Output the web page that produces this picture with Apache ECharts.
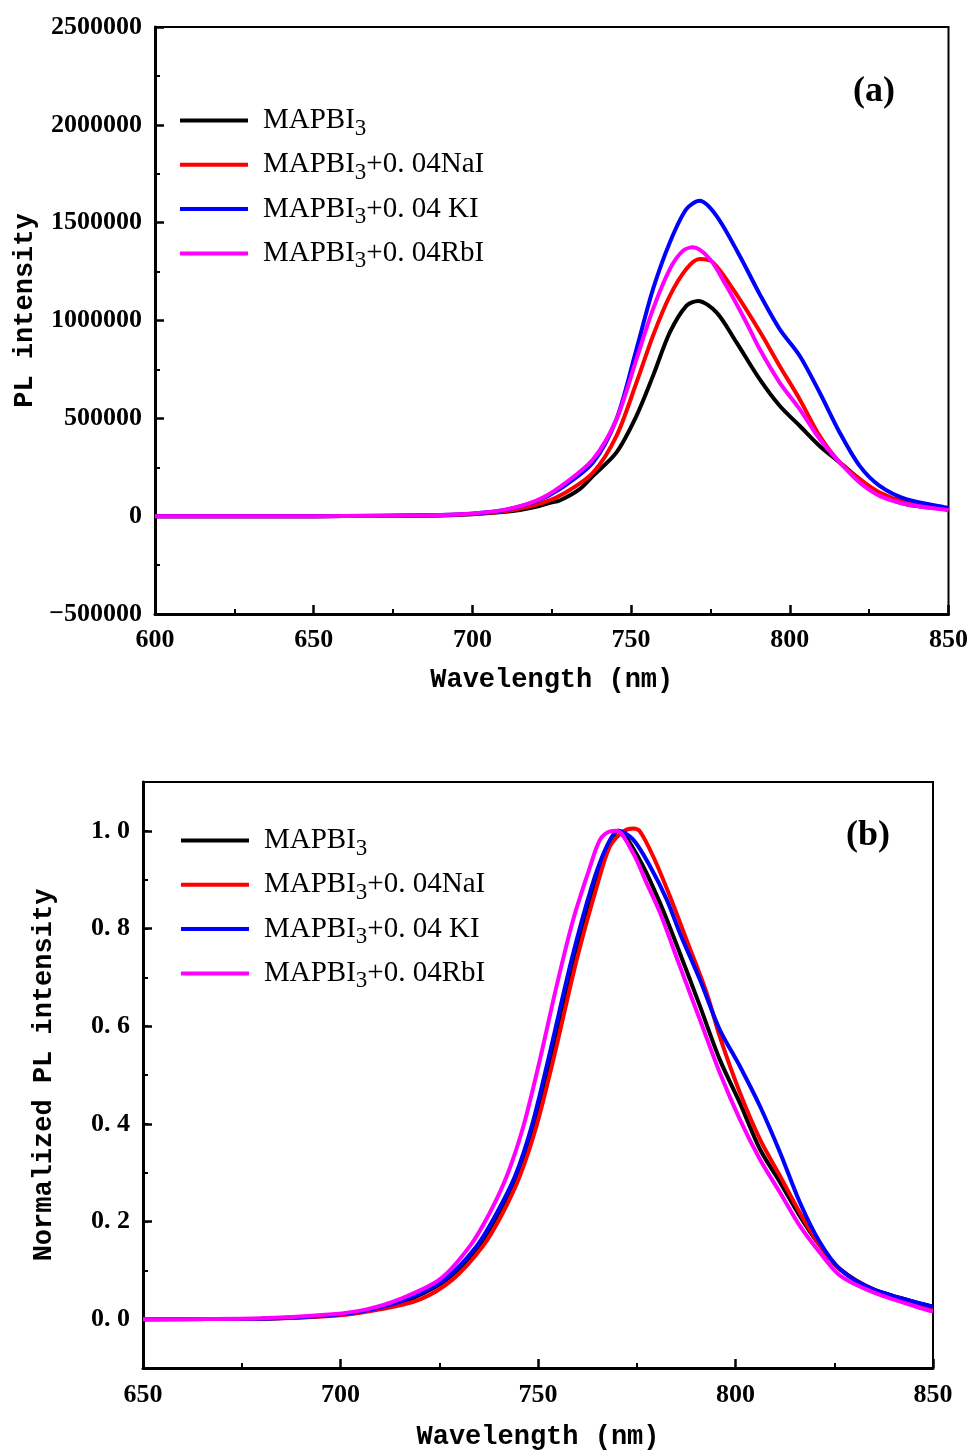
<!DOCTYPE html>
<html><head><meta charset="utf-8">
<script src="https://cdn.jsdelivr.net/npm/echarts@6/dist/echarts.min.js"></script>
<style>html,body{margin:0;padding:0;background:#fff}#c{width:971px;height:1455px}</style>
</head><body><div id="c"></div>
<script>
// ---- data ----
const seriesNames = ['MAPBI3', 'MAPBI3+0.04NaI', 'MAPBI3+0.04 KI', 'MAPBI3+0.04RbI'];
const seriesColors = ['#000000', '#ff0000', '#0000ff', '#ff00ff'];
const panelLabels = ['(a)', '(b)'];

// (a) PL intensity, [wavelength nm, counts]
const topMAPBI3 = [[600,0],[650,0],[670,1000],[690,4000],[700,10000],[708.6,20000],[715,32000],[720,48000],[724.4,68000],[727.5,80000],[733.8,138000],[738,206000],[745.4,326000],[751.7,513000],[756.9,717000],[762.2,939000],[767.4,1075000],[771.1,1100000],[776.9,1041000],[783.2,888000],[790.5,700000],[796.8,564000],[803.1,462000],[809.4,359000],[815.7,275000],[822,189000],[828.3,112000],[836.7,61000],[849.3,36000],[850,34000]];
const topNaI = [[600,0],[650,0],[670,1000],[690,5000],[700,11000],[710,25000],[720,58000],[727.5,104000],[738,223000],[745.4,410000],[751.7,683000],[756.9,922000],[762.2,1126000],[767.4,1263000],[771.6,1314000],[775.8,1297000],[782.1,1160000],[790.5,945000],[796.8,768000],[803.1,598000],[809.4,410000],[815.7,275000],[822,189000],[828.3,121000],[836.7,70000],[849.3,36000],[850,35000]];
const topKI = [[600,0],[650,0],[670,2000],[690,6000],[700,13000],[710,30000],[720,75000],[727.5,138000],[738,274000],[745.4,496000],[751.7,854000],[756.9,1160000],[762.2,1399000],[767.4,1569000],[771.6,1612000],[776.9,1535000],[784.2,1331000],[790.5,1135000],[796.8,956000],[803.1,820000],[809.4,632000],[815.7,428000],[822,257000],[828.3,155000],[836.7,87000],[849.3,44000],[850,42000]];
const topRbI = [[600,0],[650,0],[670,2000],[690,6000],[700,14000],[710,32000],[720,78000],[727.5,148000],[738,291000],[745.4,496000],[751.7,803000],[756.9,1058000],[762.2,1263000],[766.3,1356000],[769.5,1374000],[774.8,1314000],[780,1177000],[786.3,990000],[790.5,854000],[796.8,683000],[803.1,547000],[809.4,394000],[815.7,275000],[822,172000],[828.3,104000],[836.7,61000],[849.3,32000],[850,30000]];

// (b) normalized PL intensity, [wavelength nm, normalized]
const normMAPBI3 = [[650,0],[680,0.001],[700,0.009],[710,0.022],[718,0.042],[727,0.082],[735,0.15],[740.1,0.218],[744.7,0.293],[748.9,0.395],[753.1,0.532],[759,0.736],[764.1,0.886],[767.9,0.968],[770.3,1.0],[775.8,0.94],[780.9,0.852],[785.9,0.75],[791,0.641],[796,0.532],[801.1,0.443],[806.2,0.348],[811.3,0.28],[816.3,0.211],[821.4,0.15],[826.5,0.102],[834.9,0.061],[849.2,0.027],[850,0.026]];
const normNaI = [[650,0],[680,0.001],[700,0.008],[710,0.02],[720,0.04],[728.5,0.082],[736.1,0.15],[741.1,0.218],[745.4,0.293],[749.6,0.395],[753.9,0.532],[759.8,0.736],[764.9,0.886],[768.2,0.968],[771.6,0.999],[774.1,1.005],[775.8,0.999],[779.2,0.947],[783.4,0.866],[787.6,0.777],[792.7,0.668],[796,0.579],[801.1,0.464],[806.2,0.368],[811.3,0.293],[816.3,0.218],[821.4,0.15],[826.5,0.102],[834.9,0.061],[849.2,0.02],[850,0.019]];
const normKI = [[650,0],[680,0.001],[700,0.01],[710,0.024],[718,0.045],[726.5,0.082],[734.5,0.15],[739.6,0.218],[744.2,0.293],[748.4,0.395],[752.6,0.532],[758.5,0.736],[763.6,0.886],[767.4,0.968],[770.3,1.0],[774.1,0.982],[778.4,0.927],[782.6,0.859],[785.9,0.791],[791,0.695],[796,0.593],[801.1,0.518],[806.2,0.436],[811.3,0.341],[816.3,0.239],[821.4,0.157],[826.5,0.102],[834.9,0.061],[849.2,0.027],[850,0.026]];
const normRbI = [[650,0],[680,0.002],[698,0.01],[706.6,0.02],[715,0.041],[725.2,0.082],[732.8,0.15],[737.8,0.218],[742.1,0.293],[746.3,0.395],[750.5,0.532],[754.7,0.682],[758.9,0.818],[763.2,0.927],[765.7,0.982],[768.2,0.999],[769.9,1.0],[774.1,0.954],[777.5,0.893],[780.9,0.832],[785.9,0.723],[791,0.613],[796,0.505],[801.1,0.409],[806.2,0.327],[811.3,0.259],[816.3,0.191],[821.4,0.136],[826.5,0.089],[834.9,0.055],[849.2,0.017],[850,0.016]];

const topData = [topMAPBI3, topNaI, topKI, topRbI];
const normData = [normMAPBI3, normNaI, normKI, normRbI];

// ---- styles ----
const NUM_FONT = 'Liberation Serif';
const NAME_FONT = 'Liberation Mono';
const tickLabel = {color:'#000', fontFamily:NUM_FONT, fontSize:26, fontWeight:'bold'};
const nameStyle = {color:'#000', fontFamily:NAME_FONT, fontSize:27, fontWeight:'bold'};
const axisLineS = {show:true, onZero:false, lineStyle:{color:'#000', width:3}};
const majorTick = {show:true, inside:true, length:9, lineStyle:{color:'#000', width:2.5}};
const minorTickS = {show:true, splitNumber:2, length:5, lineStyle:{color:'#000', width:2}};

function legendFmt(name){
  return name.replace('MAPBI3', 'MAPBI{s|3}').replace('0.04', '0. 04');
}
function makeLegend(left, top){
  return {
    left:left, top:top, padding:0, orient:'vertical', icon:'rect', itemWidth:68, itemHeight:4, itemGap:5.3,
    selectedMode:false, data:seriesNames, formatter:legendFmt,
    textStyle:{color:'#000', fontFamily:NUM_FONT, fontSize:29, lineHeight:30, padding:[0,0,0,10],
      rich:{s:{color:'#000', fontFamily:NUM_FONT, fontSize:23, lineHeight:22, padding:[16,0,0,0]}}}
  };
}

const series = [];
seriesNames.forEach((n, i) => {
  series.push({name:n, type:'line', xAxisIndex:0, yAxisIndex:0, data:topData[i], showSymbol:false,
    smooth:0.3, lineStyle:{color:seriesColors[i], width:4}, itemStyle:{color:seriesColors[i]}, z:2+i});
});
seriesNames.forEach((n, i) => {
  series.push({name:n, type:'line', xAxisIndex:1, yAxisIndex:1, data:normData[i], showSymbol:false,
    smooth:0.3, lineStyle:{color:seriesColors[i], width:4}, itemStyle:{color:seriesColors[i]}, z:2+i});
});

const option = {
  animation:false,
  backgroundColor:'#fff',
  title:[
    {text:panelLabels[0], left:853, top:74, padding:0, textStyle:{color:'#000', fontFamily:NUM_FONT, fontSize:36, fontWeight:'bold'}},
    {text:panelLabels[1], left:846, top:818, padding:0, textStyle:{color:'#000', fontFamily:NUM_FONT, fontSize:36, fontWeight:'bold'}}
  ],
  legend:[makeLegend(180, 101), makeLegend(181, 821)],
  grid:[
    {left:155, top:27, width:794, height:587, show:true, borderColor:'#000', borderWidth:2, backgroundColor:'transparent'},
    {left:143, top:782, width:790, height:586, show:true, borderColor:'#000', borderWidth:2, backgroundColor:'transparent'}
  ],
  xAxis:[
    {gridIndex:0, type:'value', min:600, max:850, interval:50,
     axisLine:axisLineS, axisTick:majorTick, minorTick:minorTickS, splitLine:{show:false},
     axisLabel:Object.assign({margin:13}, tickLabel),
     name:'Wavelength (nm)', nameLocation:'middle', nameGap:53, nameTextStyle:nameStyle},
    {gridIndex:1, type:'value', min:650, max:850, interval:50,
     axisLine:axisLineS, axisTick:majorTick, minorTick:minorTickS, splitLine:{show:false},
     axisLabel:Object.assign({margin:14}, tickLabel),
     name:'Wavelength (nm)', nameLocation:'middle', nameGap:56, nameTextStyle:nameStyle}
  ],
  yAxis:[
    {gridIndex:0, type:'value', min:-500000, max:2500000, interval:500000,
     axisLine:axisLineS, axisTick:majorTick, minorTick:minorTickS, splitLine:{show:false},
     axisLabel:Object.assign({margin:13, formatter:v => String(v).replace('-', '\u2212')}, tickLabel),
     name:'PL intensity', nameLocation:'middle', nameGap:109, nameTextStyle:Object.assign({padding:[0,0,0,20]}, nameStyle)},
    {gridIndex:1, type:'value', min:-0.1, max:1.1, splitNumber:6,
     axisLine:axisLineS, axisTick:majorTick, minorTick:{show:false}, splitLine:{show:false},
     axisLabel:Object.assign({margin:13, showMinLabel:false, showMaxLabel:false,
       formatter:v => (Math.abs(Math.round(v*10) % 2) === 0 ? v.toFixed(1).replace('.', '. ') : '')}, tickLabel),
     name:'Normalized PL intensity', nameLocation:'middle', nameGap:85, nameTextStyle:nameStyle},
    {gridIndex:1, type:'value', min:-0.1, max:1.1, interval:0.1, position:'left',
     axisLine:{show:false}, axisTick:{show:true, inside:true, length:5, lineStyle:{color:'#000', width:2}},
     axisLabel:{show:false}, splitLine:{show:false}}
  ],
  series:series
};

const chart = echarts.init(document.getElementById('c'), null, {renderer:'canvas'});
chart.setOption(option);
</script>
</body></html>
